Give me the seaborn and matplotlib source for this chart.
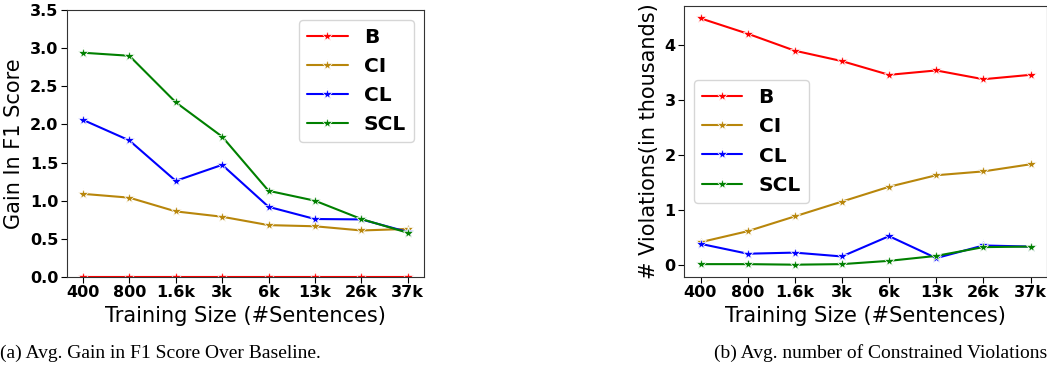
import numpy as np
import pandas as pd
import matplotlib
matplotlib.use("Agg")
import matplotlib.pyplot as plt
import seaborn as sns

# dados
tamanhos = ["400", "800", "1.6k", "3k", "6k", "13k", "26k", "37k"]
modelos = ["B", "CI", "CL", "SCL"]
cores = ["red", "darkgoldenrod", "blue", "green"]

# (a) ganho em F1
ganho_B = [0, 0, 0, 0, 0, 0, 0, 0]
ganho_CI = [1.09, 1.04, 0.86, 0.79, 0.68, 0.665, 0.61, 0.63]
ganho_CL = [2.06, 1.79, 1.26, 1.47, 0.92, 0.76, 0.755, 0.59]
ganho_SCL = [2.94, 2.90, 2.29, 1.84, 1.13, 1.00, 0.76, 0.58]

# (b) violações (em milhares)
viol_B = [4.49, 4.21, 3.90, 3.71, 3.46, 3.54, 3.38, 3.46]
viol_CI = [0.41, 0.61, 0.88, 1.15, 1.42, 1.63, 1.70, 1.83]
viol_CL = [0.38, 0.20, 0.22, 0.15, 0.52, 0.12, 0.35, 0.33]
viol_SCL = [0.01, 0.01, 0.0, 0.01, 0.07, 0.16, 0.32, 0.33]

sns.set_style("white")
plt.rcParams["font.family"] = ["DejaVu Sans"]
plt.rcParams["text.color"] = "black"
plt.rcParams["axes.labelcolor"] = "black"
plt.rcParams["xtick.color"] = "black"
plt.rcParams["ytick.color"] = "black"


def tabela(series):
    linhas = []
    for nome, vals in zip(modelos, series):
        for i, v in enumerate(vals):
            linhas.append({"pos": i, "modelo": nome, "valor": v})
    return pd.DataFrame(linhas)


df_a = tabela([ganho_B, ganho_CI, ganho_CL, ganho_SCL])
df_b = tabela([viol_B, viol_CI, viol_CL, viol_SCL])

fig = plt.figure(figsize=(10.47, 3.7), dpi=100)
ax1 = fig.add_axes([66.7 / 1047, 93 / 370, 357.3 / 1047, 267 / 370])
ax2 = fig.add_axes([684 / 1047, 93 / 370, 363 / 1047, 271 / 370])

paleta = dict(zip(modelos, cores))

for ax, df, ylabel, loc in [
    (ax1, df_a, "Gain In F1 Score", "upper right"),
    (ax2, df_b, "# Violations(in thousands)", "center left"),
]:
    sns.lineplot(data=df, x="pos", y="valor", hue="modelo", palette=paleta,
                 marker="*", markersize=8, markeredgewidth=0.5, linewidth=1.5,
                 ax=ax, legend=True)
    ax.set_xticks(range(len(tamanhos)))
    ax.set_xticklabels(tamanhos, fontweight="bold", fontsize=11.5)
    ax.set_xlabel("Training Size (#Sentences)", fontsize=15)
    ax.set_ylabel(ylabel, fontsize=15)
    for s in ax.spines.values():
        s.set_visible(True)
        s.set_color("#333333")
    ax.tick_params(axis="both", which="both", length=4, left=True, bottom=True,
                   pad=2)
    leg = ax.legend(loc=loc, prop={"weight": "bold", "size": 14.5}, frameon=True)

ax1.set_ylim(0, 3.5)
ax1.set_yticks(np.arange(0, 3.51, 0.5))
ax1.set_yticklabels([f"{v:.1f}" for v in np.arange(0, 3.51, 0.5)],
                    fontweight="bold", fontsize=11.5)
ax2.set_yticks([0, 1, 2, 3, 4])
ax2.set_yticklabels(["0", "1", "2", "3", "4"], fontweight="bold", fontsize=11.5)

fig.text(0.0, 0.045, "(a) Avg. Gain in F1 Score Over Baseline.",
         family="Liberation Serif", fontsize=14, ha="left", va="center")
fig.text(1.0, 0.045, "(b) Avg. number of Constrained Violations",
         family="Liberation Serif", fontsize=14, ha="right", va="center")

fig.savefig("out.png", dpi=100)
